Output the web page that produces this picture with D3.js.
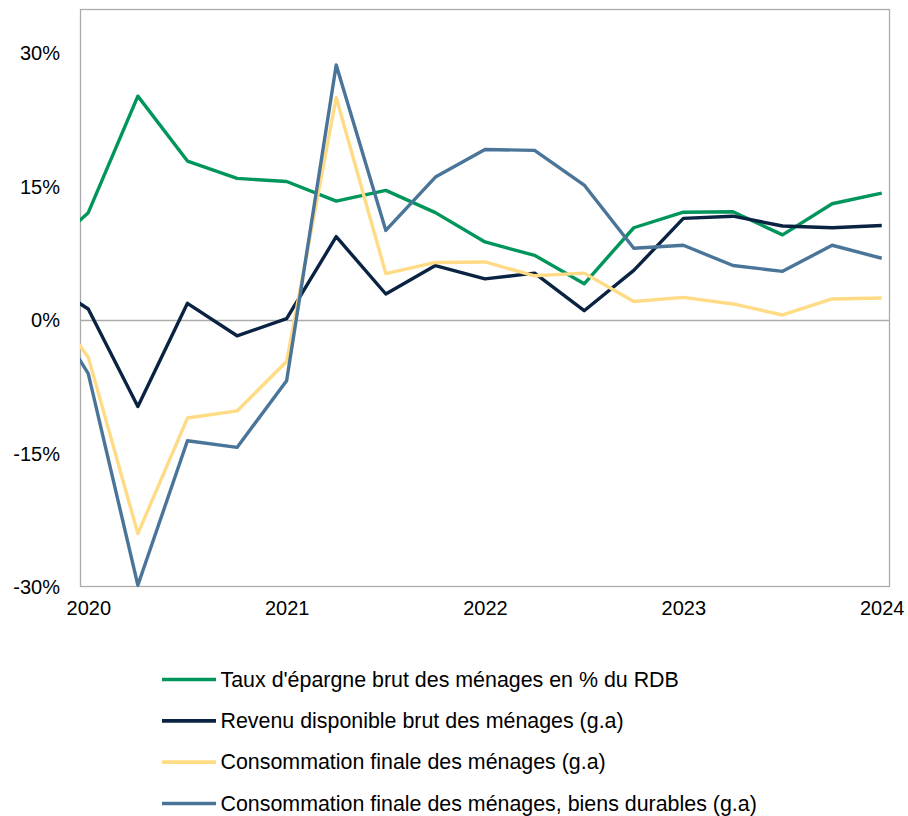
<!DOCTYPE html>
<html>
<head>
<meta charset="utf-8">
<script src="https://cdn.jsdelivr.net/npm/d3@7"></script>
<style>
  html, body { margin: 0; padding: 0; background: #fff; }
  svg { display: block; }
  text { font-family: "Liberation Sans", Arial, sans-serif; fill: #000; }
</style>
</head>
<body>
<svg id="chart" width="908" height="816"></svg>
<script>
// Quarters (first entry lies just before the visible axis range and is clipped)
const quarters = ["2019T4",
  "2020T1","2020T2","2020T3","2020T4",
  "2021T1","2021T2","2021T3","2021T4",
  "2022T1","2022T2","2022T3","2022T4",
  "2023T1","2023T2","2023T3","2023T4",
  "2024T1"];

const tauxEpargne   = [7.0, 12.1, 25.2, 17.9, 15.95, 15.6, 13.4, 14.6, 12.1, 8.8, 7.3, 4.1, 10.4, 12.15, 12.2, 9.6, 13.1, 14.3];
const revenuDispo   = [4.9, 1.26, -9.7, 1.9, -1.75, 0.17, 9.4, 2.95, 6.15, 4.65, 5.3, 1.07, 5.6, 11.45, 11.7, 10.6, 10.4, 10.65];
const consoFinale   = [3.5, -4.15, -24.0, -11.0, -10.2, -4.64, 25.05, 5.24, 6.5, 6.55, 5.0, 5.3, 2.1, 2.57, 1.83, 0.59, 2.39, 2.5];
const consoDurables = [3.0, -6.0, -29.8, -13.55, -14.3, -6.8, 28.7, 10.1, 16.1, 19.2, 19.1, 15.2, 8.1, 8.43, 6.15, 5.5, 8.43, 6.97];

const seriesNames = [
  "Taux d'épargne brut des ménages en % du RDB",
  "Revenu disponible brut des ménages (g.a)",
  "Consommation finale des ménages (g.a)",
  "Consommation finale des ménages, biens durables (g.a)"
];
const seriesColors = ["#00965B", "#0B2342", "#FFDB85", "#4A7598"];
const seriesValues = [tauxEpargne, revenuDispo, consoFinale, consoDurables];

const yTickValues = [-30, -15, 0, 15, 30];
const xTickQuarters = ["2020T1", "2021T1", "2022T1", "2023T1", "2024T1"];
const xTickLabels = ["2020", "2021", "2022", "2023", "2024"];

// ---- layout
const svg = d3.select("#chart");
const plot = { left: 80, right: 890, top: 9, bottom: 587 };

// quarter index relative to 2020T1
const qIndex = q => quarters.indexOf(q) - 1;

const x = d3.scaleLinear()
  .domain([-1/6, 16 + 1/6])
  .range([plot.left, plot.right]);

const y = d3.scaleLinear()
  .domain([-30, 35])
  .range([plot.bottom, plot.top]);

svg.append("defs").append("clipPath").attr("id", "clip")
  .append("rect")
  .attr("x", plot.left).attr("y", plot.top)
  .attr("width", plot.right - plot.left)
  .attr("height", plot.bottom - plot.top);

// frame
svg.append("rect")
  .attr("x", plot.left + 0.5).attr("y", plot.top + 0.5)
  .attr("width", plot.right - plot.left - 1)
  .attr("height", plot.bottom - plot.top - 1)
  .attr("fill", "none")
  .attr("stroke", "#ABABAB")
  .attr("stroke-width", 1.3);

// zero line
svg.append("line")
  .attr("x1", plot.left).attr("x2", plot.right)
  .attr("y1", Math.round(y(0)) + 0.5).attr("y2", Math.round(y(0)) + 0.5)
  .attr("stroke", "#ABABAB").attr("stroke-width", 1.3);

// y axis
const yAxis = d3.axisLeft(y)
  .tickValues(yTickValues)
  .tickSize(0)
  .tickPadding(20)
  .tickFormat(d => d + "%");
const gy = svg.append("g").attr("transform", `translate(${plot.left},0)`).call(yAxis);
gy.select(".domain").remove();
gy.selectAll("text")
  .style("font-family", "'Liberation Sans', Arial, sans-serif")
  .style("font-size", "20px")
  .attr("fill", "#000");

// x axis
const xAxis = d3.axisBottom(x)
  .tickValues(xTickQuarters.map(qIndex))
  .tickSize(0)
  .tickPadding(14)
  .tickFormat((d, i) => xTickLabels[i]);
const gx = svg.append("g").attr("transform", `translate(0,${plot.bottom})`).call(xAxis);
gx.select(".domain").remove();
gx.selectAll("text")
  .style("font-family", "'Liberation Sans', Arial, sans-serif")
  .style("font-size", "20px")
  .attr("fill", "#000");

// lines
const line = d3.line()
  .x((d, i) => x(qIndex(quarters[i])))
  .y(d => y(d));

const linesG = svg.append("g").attr("clip-path", "url(#clip)");
seriesValues.forEach((vals, k) => {
  linesG.append("path")
    .datum(vals)
    .attr("d", line)
    .attr("fill", "none")
    .attr("stroke", seriesColors[k])
    .attr("stroke-width", 3.4)
    .attr("stroke-linejoin", "round");
});

// legend
const legendY = d3.scaleLinear().domain([0, 3]).range([679.5, 803.5]);
const lg = svg.append("g");
seriesNames.forEach((name, k) => {
  const yy = legendY(k);
  lg.append("line")
    .attr("x1", 162).attr("x2", 216)
    .attr("y1", yy).attr("y2", yy)
    .attr("stroke", seriesColors[k])
    .attr("stroke-width", 3.6);
  lg.append("text")
    .attr("x", 220.5).attr("y", yy + 7)
    .style("font-size", "21.4px")
    .text(name);
});
</script>
</body>
</html>
